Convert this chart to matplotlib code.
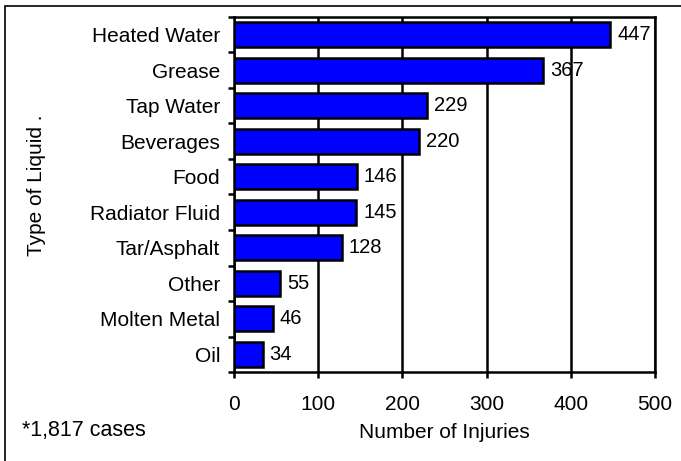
import matplotlib
import matplotlib.pyplot as plt
from matplotlib.patches import Rectangle

matplotlib.pyplot.switch_backend('Agg')
plt.rcParams['font.family'] = ['Liberation Sans', 'DejaVu Sans']

liquids = ['Heated Water', 'Grease', 'Tap Water', 'Beverages', 'Food',
           'Radiator Fluid', 'Tar/Asphalt', 'Other', 'Molten Metal', 'Oil']
injuries = [447, 367, 229, 220, 146, 145, 128, 55, 46, 34]
x_ticks = [0, 100, 200, 300, 400, 500]

fs = 15
fig = plt.figure(figsize=(6.81, 4.61), dpi=100)
ax = fig.add_axes([234 / 681, 1 - 372 / 461, 421 / 681, 355 / 461])

pos = list(range(len(liquids)))
ax.barh(pos, injuries, height=0.7, color='#0000FF', edgecolor='black',
        linewidth=1.8, zorder=3)
for p, v in zip(pos, injuries):
    ax.annotate(str(v), (v, p), xytext=(5, 0), textcoords='offset points',
                va='center', ha='left', fontsize=14.5, zorder=4)

ax.set_ylim(len(liquids) - 0.5, -0.5)
ax.set_xlim(0, 500)
ax.set_yticks(pos)
ax.set_yticklabels(liquids, fontsize=fs)
ax.set_yticks([i - 0.5 for i in range(len(liquids) + 1)], minor=True)
ax.tick_params(axis='y', which='major', length=0, pad=10)
ax.tick_params(axis='y', which='minor', length=4.5, width=1.8, direction='out')
ax.set_xticks(x_ticks)
ax.set_xticklabels([str(t) for t in x_ticks], fontsize=fs)
ax.tick_params(axis='x', length=4.5, width=1.8, direction='out', pad=12)
ax.xaxis.grid(True, color='black', linewidth=1.8, zorder=0)
for s in ax.spines.values():
    s.set_linewidth(1.8)

fig.text(444 / 681, 1 - 432 / 461, 'Number of Injuries', fontsize=fs,
         ha='center', va='center')
fig.text(37 / 681, 1 - 185 / 461, 'Type of Liquid .', rotation=90,
         fontsize=fs, ha='center', va='center')
fig.text(22 / 681, 1 - 430 / 461, '*1,817 cases', fontsize=15.5,
         ha='left', va='center')

fig.patches.append(Rectangle((5 / 681, -0.1), 1.2, 1 - 6 / 461 + 0.1,
                             transform=fig.transFigure, fill=False,
                             edgecolor='black', linewidth=1.2))

plt.savefig('out.png', dpi=100)
plt.close()
